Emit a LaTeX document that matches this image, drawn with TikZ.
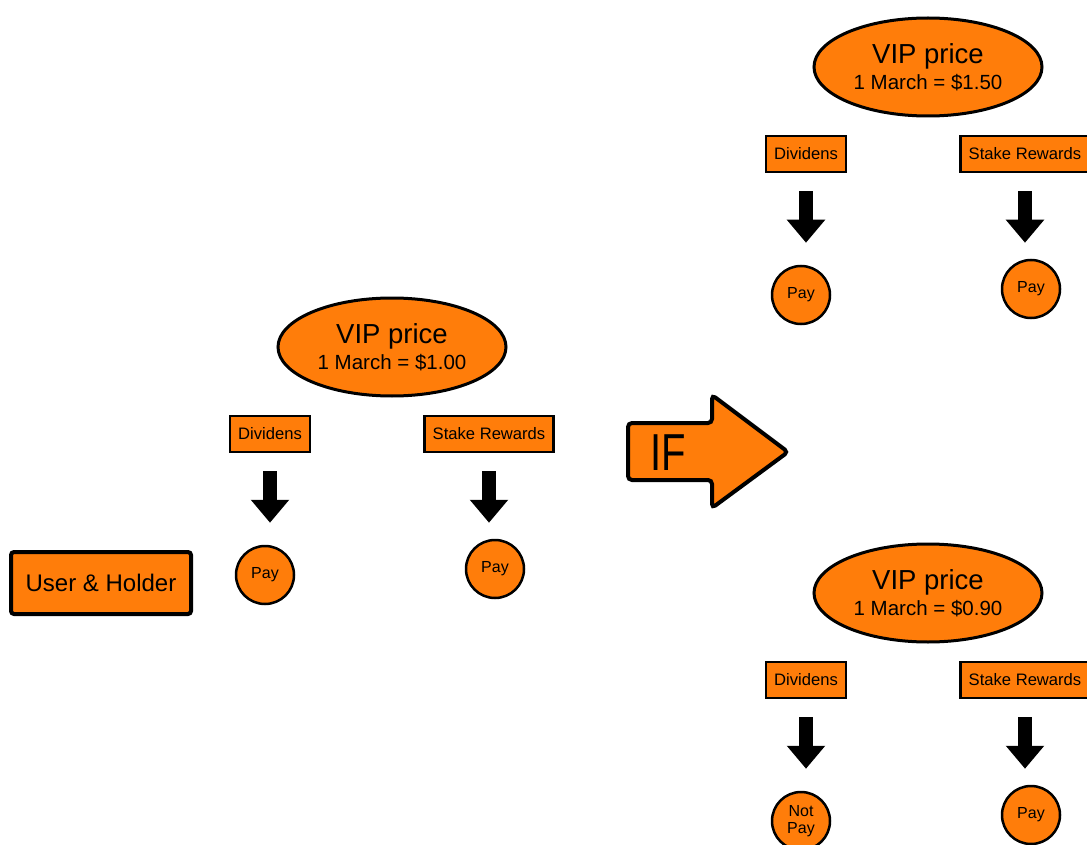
\documentclass[tikz,border=0pt]{standalone}
\usepackage{fontspec}
\setmainfont{Liberation Sans}
\usetikzlibrary{shapes.geometric,arrows.meta}
\definecolor{vipOrange}{RGB}{255,125,10}

\begin{document}
\begin{tikzpicture}[x=1pt, y=-1pt,
		vip/.style={ellipse, draw, line width=3pt, fill=vipOrange, minimum width=228pt, minimum height=98pt, inner sep=0pt, align=center, font=\fontsize{20.5}{26}\selectfont},
		tag/.style={rectangle, draw, line width=2.5pt, fill=vipOrange, minimum height=36pt, inner xsep=8pt, inner ysep=0pt, font=\fontsize{16.6}{18}\selectfont},
		coin/.style={circle, draw, line width=2.5pt, fill=vipOrange, minimum size=58pt, inner sep=0pt, align=center, font=\fontsize{16}{17}\selectfont},
		holder/.style={rectangle, draw, line width=4pt, rounded corners=3pt, fill=vipOrange, minimum width=180pt, minimum height=62pt, font=\fontsize{24}{26}\selectfont},
		ifarrow/.style={draw, line width=4pt, fill=vipOrange, rounded corners=4pt},
		down/.style={line width=14pt, -{Triangle[width=37pt,length=23pt]}, shorten <=18pt, shorten >=22pt}]
			\useasboundingbox (0,0) rectangle (1087,845);
			\node[holder] (user) at (101,583) {User \& Holder};
			% the three price cases
			\foreach \g/\ex/\ey/\price/\res in {m/392/347/1.00/Pay, t/928/67/1.50/Pay, b/928/593/0.90/{Not\\Pay}}
			{
				\node[vip] (vip\g) at (\ex,\ey) {{\fontsize{27.5}{26}\selectfont VIP price}\\1 March = \$\price};
				\node[tag] (div\g) at (\ex-122,\ey+87) {Dividens};
				\node[tag] (stake\g) at (\ex+97,\ey+87) {Stake Rewards};
				\node[coin] (pd\g) at (\ex-127,\ey+228) {\res};
				\node[coin] (ps\g) at (\ex+103,\ey+222) {Pay};
				\draw[down] (div\g.south) -- (div\g.south |- pd\g.north);
				\draw[down, shorten >=16pt] (stake\g.south) -- (stake\g.south |- ps\g.north);
			}
			\draw[ifarrow] (628,423) -- (712,423) -- (712,395) -- (788,452) -- (712,508) -- (712,480) -- (628,480) -- cycle;
			\node[font=\fontsize{40}{40}\selectfont] (iftext) at (668,453) {\scalebox{1}[1.3]{IF}};
		\end{tikzpicture}
\end{document}
